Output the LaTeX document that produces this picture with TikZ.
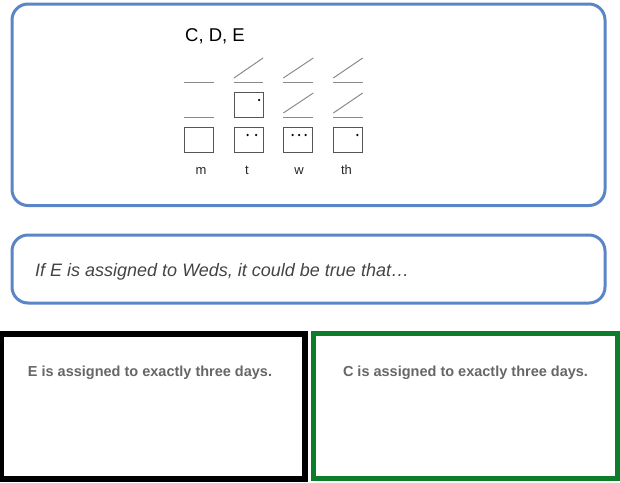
\documentclass[tikz,border=0pt]{standalone}
\usepackage{fontspec}
\setmainfont{Liberation Sans}
\definecolor{panelblue}{HTML}{5A85C6}
\definecolor{boxgreen}{HTML}{0E7D2A}
\definecolor{rulegray}{HTML}{8A8A8A}
\definecolor{boxgray}{HTML}{555555}
\definecolor{textgray}{HTML}{666666}
\definecolor{qgray}{HTML}{444444}
\begin{document}
\begin{tikzpicture}[x=1pt,y=-1pt,
  panel/.style={draw=panelblue,line width=3pt,rounded corners=16pt,inner sep=0pt},
  answer/.style={line width=#1,inner sep=0pt,minimum width=304.5pt,minimum height=145pt},
  daybox/.style={draw=boxgray,line width=0.8pt,minimum width=29pt,minimum height=25pt,inner sep=0pt},
  slot/.style={draw=rulegray,line width=1pt},
  pip/.style={fill=black,draw=none,circle,inner sep=0pt,minimum size=2.5pt},
  daylabel/.style={anchor=base,font=\fontsize{13}{15}\selectfont,text=black!85,inner sep=0pt},
  anstext/.style={anchor=base,font=\fontsize{14.5}{17}\selectfont\bfseries,text=textgray,inner sep=0pt}]
\useasboundingbox (0,0) rectangle (620,482);
% panels
\node[panel,minimum width=593pt,minimum height=201.5pt] (top) at (308.5,104.75) {};
\node[panel,minimum width=593pt,minimum height=68pt] (question) at (308.5,269) {};
\node[answer=6pt,draw=black] (ansA) at (152.75,406.5) {};
\node[answer=5pt,draw=boxgreen,minimum width=304pt] (ansB) at (465.5,406) {};
% title
\node[anchor=base west,inner sep=0pt,font=\fontsize{18.5}{21}\selectfont] (title) at (185,41) {C, D, E};
% slots
\draw[slot] (184,82) -- (214,82);
\draw[slot] (184,117) -- (214,117);
\draw[slot] (234,82) -- (263,82);
\draw[slot] (234,78) -- (263,58);
\draw[slot] (283.3,82) -- (313.3,82);
\draw[slot] (283.3,78) -- (313.3,58);
\draw[slot] (283.3,117) -- (313.3,117);
\draw[slot] (283.3,113) -- (313.3,93);
\draw[slot] (333.3,82) -- (362.7,82);
\draw[slot] (333.3,78) -- (362.7,58);
\draw[slot] (333.3,117) -- (362.7,117);
\draw[slot] (333.3,113) -- (362.7,93);
% day boxes
\node[daybox] (m1) at (199,139.5) {};
\node[daybox] (t2) at (248.5,104.5) {};
\node[daybox] (t1) at (248.5,139.5) {};
\node[daybox] (w1) at (298.3,139.5) {};
\node[daybox] (th1) at (348,139.5) {};
% pips
\node[pip] (p1) at (259,100) {};
\node[pip] (p2) at (247.7,135) {};
\node[pip] (p3) at (256,135) {};
\node[pip] (p4) at (292.7,135) {};
\node[pip] (p5) at (299,135) {};
\node[pip] (p6) at (305.7,135) {};
\node[pip] (p7) at (357.3,135) {};
% labels
\node[daylabel] (lm) at (201,174) {m};
\node[daylabel] (lt) at (247,174) {t};
\node[daylabel] (lw) at (299,174) {w};
\node[daylabel] (lth) at (346.5,174) {th};
% texts
\node[anchor=base west,inner sep=0pt,font=\fontsize{18}{20}\selectfont\itshape,text=qgray] (qtext) at (35,276.5) {If E is assigned to Weds, it could be true that…};
\node[anstext] (atext) at (150,376) {E is assigned to exactly three days.};
\node[anstext] (btext) at (465.5,376) {C is assigned to exactly three days.};
\end{tikzpicture}
\end{document}
